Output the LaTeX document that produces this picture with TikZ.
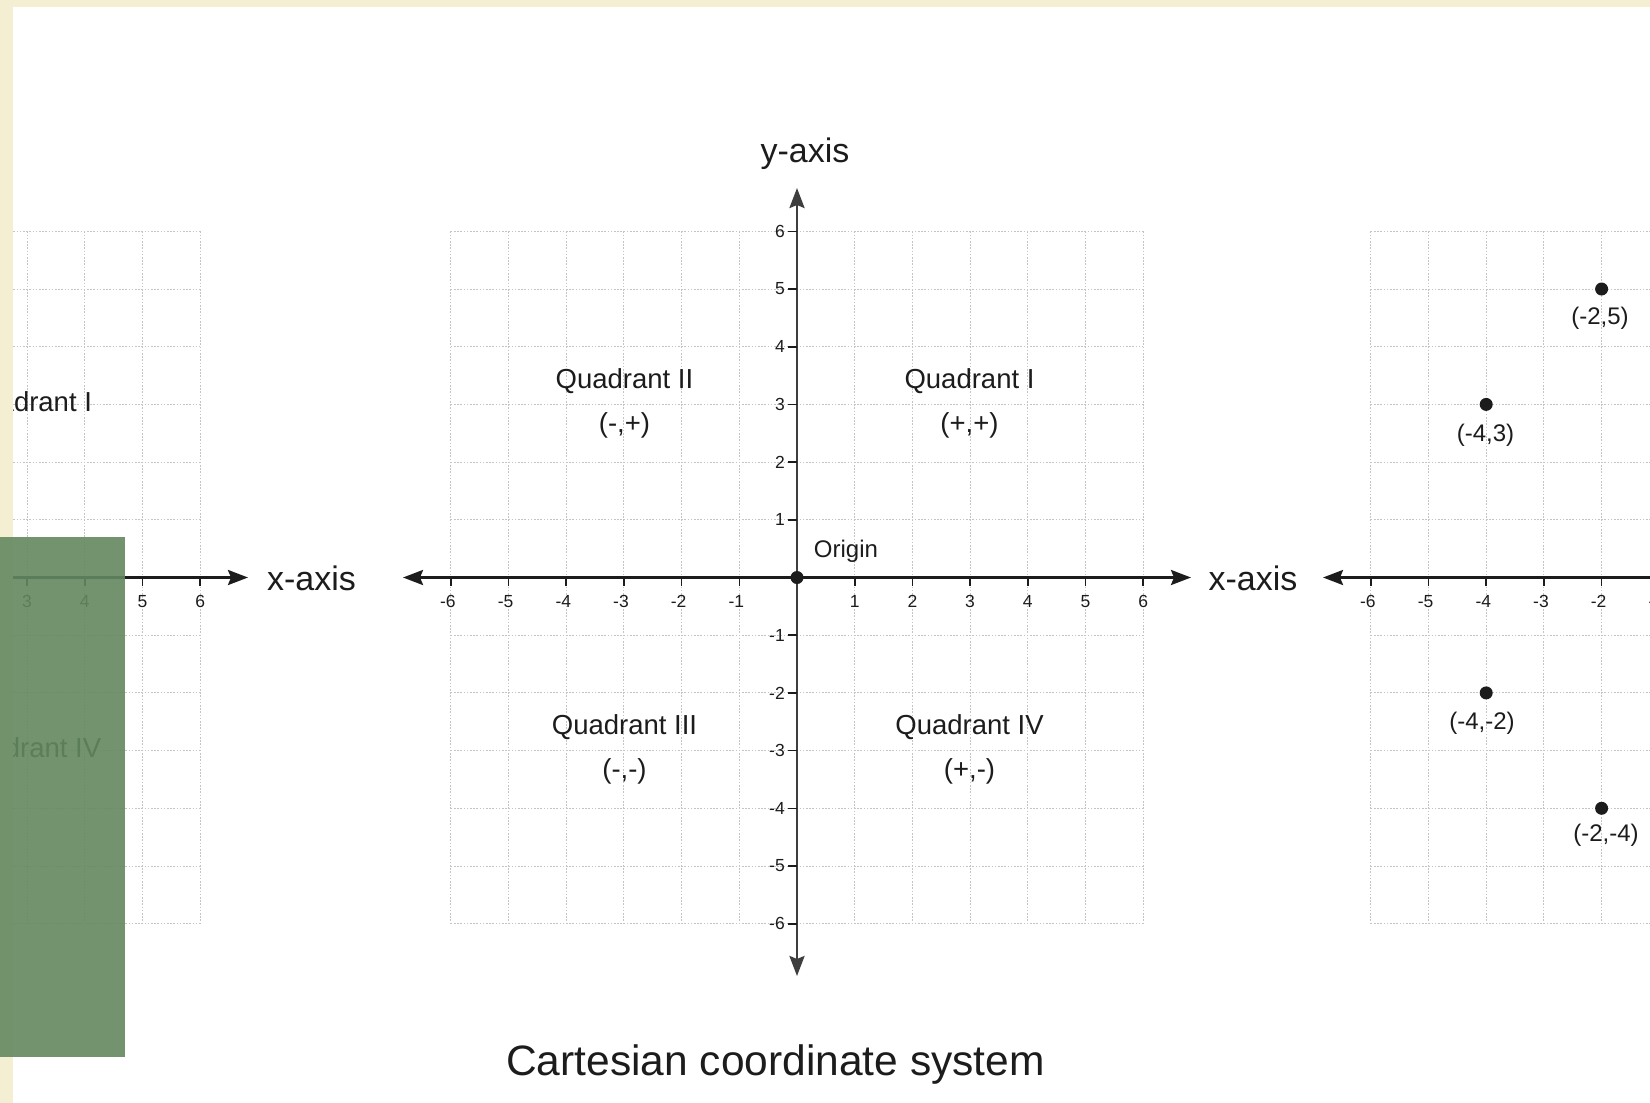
\documentclass[tikz,border=0pt]{standalone}
\usepackage{fontspec}
\setmainfont{Liberation Sans}
\usetikzlibrary{arrows.meta}
\definecolor{beige}{RGB}{244,239,210}
\definecolor{greenbox}{RGB}{100,136,96}
\definecolor{gridgray}{RGB}{196,196,196}
\definecolor{ink}{RGB}{28,28,28}
\begin{document}
\begin{tikzpicture}[x=1pt,y=-1pt,
  gridline/.style={draw=gridgray, line width=1pt, dash pattern=on 1.6pt off 1.6pt},
  axisline/.style={draw=ink, line width=2.6pt, {Stealth[length=20pt,width=15pt,inset=3pt]}-{Stealth[length=20pt,width=15pt,inset=3pt]}},
  tickmark/.style={draw=ink, line width=1.6pt},
  ticklbl/.style={font=\fontsize{17.5}{17.5}\selectfont, text=ink, inner sep=0pt},
  quad/.style={font=\fontsize{27.5}{27.5}\selectfont, text=ink, inner sep=0pt},
  axlbl/.style={font=\fontsize{34}{34}\selectfont, text=ink, inner sep=0pt},
  ptlbl/.style={font=\fontsize{24}{24}\selectfont, text=ink, inner sep=0pt},
  ptdot/.style={circle, fill=ink, inner sep=0pt, minimum size=13pt},
]
\useasboundingbox (0,0) rectangle (1650,1103);
\clip (0,0) rectangle (1650,1103);
\fill[white] (0,0) rectangle (1650,1103);

% panels: grid, x-axis and tick marks
\foreach \ox/\nm in {-146/L, 797/C, 1717/R} {
  \foreach \i in {-6,...,6} {
    \draw[gridline] (\ox+\i*57.7, 577.5-6*57.7) -- (\ox+\i*57.7, 577.5+6*57.7);
    \draw[gridline] (\ox-6*57.7, 577.5+\i*57.7) -- (\ox+6*57.7, 577.5+\i*57.7);
  }
  \coordinate (\nm xl) at (\ox-394,577.5);
  \coordinate (\nm xr) at (\ox+394,577.5);
  \draw[axisline] (\nm xl) -- (\nm xr);
  \foreach \i in {1,...,6} {
    \draw[tickmark] (\ox+\i*57.7,577.5) -- ++(0,8);
    \draw[tickmark] (\ox-\i*57.7,577.5) -- ++(0,8);
  }
}
% tick labels that fall inside the picture
\foreach \i in {1,...,6} {
  \node[ticklbl] (Cxp\i) at (797+\i*57.7,601.5) {\i};
  \node[ticklbl] (Cxn\i) at (797-\i*57.7,601.5) {\llap{-}\i};
}
\foreach \i in {3,...,6} {
  \node[ticklbl] (Lxp\i) at (-146+\i*57.7,601.5) {\i};
}
\foreach \i in {1,...,6} {
  \node[ticklbl] (Rxn\i) at (1717-\i*57.7,601.5) {\llap{-}\i};
}

% centre y-axis
\coordinate (yt) at (797,188);
\coordinate (yb) at (797,976);
\draw[axisline, draw=ink!85] (yt) -- (yb);
\foreach \i in {1,...,6} {
  \draw[tickmark] (797,577.5-\i*57.7) -- ++(-9,0);
  \draw[tickmark] (797,577.5+\i*57.7) -- ++(-9,0);
  \node[ticklbl, anchor=east] (yp\i) at (785,577.5-\i*57.7) {\i};
  \node[ticklbl, anchor=east] (yn\i) at (785,577.5+\i*57.7) {-\i};
}
\node[ptdot] (origin) at (797,577.5) {};
\node[ptlbl] (originlbl) at (846,551.5) {Origin};

% axis labels
\node[axlbl] (ylbl) at (805,154) {y-axis};
\node[axlbl] (xlblL) at (311.5,578) {x-axis};
\node[axlbl] (xlblC) at (1253,578) {x-axis};

% quadrant labels centre
\node[quad] (q2) at (624.5,381) {Quadrant II};
\node[quad] (q2s) at (624.5,425) {(-,+)};
\node[quad] (q1) at (969.5,381) {Quadrant I};
\node[quad] (q1s) at (969.5,425) {(+,+)};
\node[quad] (q3) at (624.5,727) {Quadrant III};
\node[quad] (q3s) at (624.5,771) {(-,-)};
\node[quad] (q4) at (969.5,727) {Quadrant IV};
\node[quad] (q4s) at (969.5,771) {(+,-)};

% left panel labels
\node[quad] (lq1) at (-146+173,404) {Quadrant I};
\node[quad] (lq4) at (-146+173,750) {Quadrant IV};

% right panel points
\node[ptdot] (p1) at (1717-2*57.7,577.5-5*57.7) {};
\node[ptlbl] (p1l) at (1600,318) {(-2,5)};
\node[ptdot] (p2) at (1717-4*57.7,577.5-3*57.7) {};
\node[ptlbl] (p2l) at (1485.5,435) {(-4,3)};
\node[ptdot] (p3) at (1717-4*57.7,577.5+2*57.7) {};
\node[ptlbl] (p3l) at (1482,723) {(-4,-2)};
\node[ptdot] (p4) at (1717-2*57.7,577.5+4*57.7) {};
\node[ptlbl] (p4l) at (1606,835.5) {(-2,-4)};

% title
\node[font=\fontsize{42.5}{42.5}\selectfont, text=ink, inner sep=0pt] (title) at (775.5,1064) {Cartesian coordinate system};

% frame bands and overlay
\fill[beige] (0,0) rectangle (1650,7);
\fill[beige] (0,0) rectangle (13,1103);
\fill[greenbox, opacity=0.9] (0,537) rectangle (125,1057);
\end{tikzpicture}
\end{document}
